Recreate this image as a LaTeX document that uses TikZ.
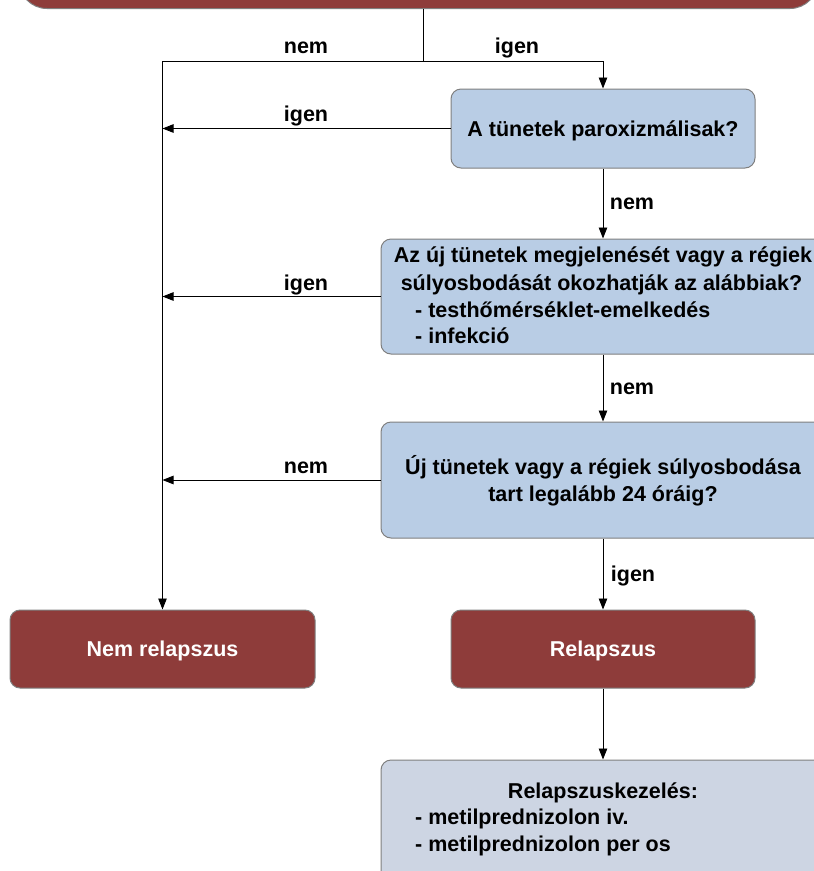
\documentclass[tikz,border=0pt]{standalone}
\usepackage{fontspec}
\setmainfont{Liberation Sans}
\usetikzlibrary{arrows.meta}
\definecolor{boxred}{HTML}{8E3C3A}
\definecolor{boxblue}{HTML}{B9CDE5}
\definecolor{boxgrey}{HTML}{CDD5E3}
\definecolor{edgegrey}{HTML}{7F7F7F}

\begin{document}
\begin{tikzpicture}[x=1pt,y=-1pt,
  every node/.style={font=\fontsize{21.5}{27}\selectfont\bfseries},
  box/.style={draw=edgegrey, line width=1pt, rounded corners=10pt, inner sep=0pt},
  redbox/.style={box, fill=boxred, text=white},
  bluebox/.style={box, fill=boxblue},
  greybox/.style={box, fill=boxgrey},
  conn/.style={line width=0.9pt, draw=black},
  arr/.style={conn, -{Triangle[length=11pt,width=8.5pt]}},
  lbl/.style={inner sep=0pt, anchor=base},
  ltext/.style={inner sep=0pt, anchor=base west}]

\useasboundingbox (0,0) rectangle (814,871);
\clip (0,0) rectangle (814,871);

% boxes
\node[redbox, rounded corners=28pt, minimum width=799pt, minimum height=80pt] (start) at (418.5,-31.5) {};
\node[bluebox, minimum width=304pt, minimum height=79pt] (q1) at (603,128.5) {};
\node[lbl] (q1t) at (603,136) {A tünetek paroxizmálisak?};

\node[bluebox, minimum width=444pt, minimum height=115pt] (q2) at (603,296.5) {};
\node[lbl] (q2a) at (603,262) {Az új tünetek megjelenését vagy a régiek};
\node[lbl] (q2b) at (601.5,290) {súlyosbodását okozhatják az alábbiak?};
\node[ltext] (q2c) at (415,317) {- testhőmérséklet-emelkedés};
\node[ltext] (q2d) at (415,343) {- infekció};

\node[bluebox, minimum width=444pt, minimum height=116pt] (q3) at (603,480) {};
\node[lbl] (q3a) at (603,474) {Új tünetek vagy a régiek súlyosbodása};
\node[lbl] (q3b) at (603,501) {tart legalább 24 óráig?};

\node[redbox, minimum width=305pt, minimum height=78pt] (norel) at (162.5,649) {};
\node[lbl, text=white] (norelt) at (162.5,656.5) {Nem relapszus};

\node[redbox, minimum width=304pt, minimum height=78pt] (rel) at (603,649) {};
\node[lbl, text=white] (relt) at (603,656.5) {Relapszus};

\node[greybox, minimum width=444pt, minimum height=130pt] (treat) at (603,825) {};
\node[lbl] (treata) at (603,798) {Relapszuskezelés:};
\node[ltext] (treatb) at (415,824) {- metilprednizolon iv.};
\node[ltext] (treatc) at (415,851) {- metilprednizolon per os};

% junction points of the connectors
\coordinate (split) at (423,61);
\coordinate (trunk) at (162.5,61);

% connectors
\draw[conn] (start.south -| split) -- (split);
\draw[conn] (split) -- (trunk);
\draw[arr] (trunk) -- (norel.north);
\draw[arr] (split) -| (q1.north);
\draw[arr] (q1.west) -- (q1.west -| trunk);
\draw[arr] (q2.west) -- (q2.west -| trunk);
\draw[arr] (q3.west) -- (q3.west -| trunk);
\draw[arr] (q1.south) -- (q2.north);
\draw[arr] (q2.south) -- (q3.north);
\draw[arr] (q3.south) -- (rel.north);
\draw[arr] (rel.south) -- (treat.north);

% connector labels
\node[lbl] (l1) at (306,53) {nem};
\node[lbl] (l2) at (517,53) {igen};
\node[lbl] (l3) at (306,121) {igen};
\node[lbl] (l4) at (632,209) {nem};
\node[lbl] (l5) at (306,290) {igen};
\node[lbl] (l6) at (632,394) {nem};
\node[lbl] (l7) at (306,473) {nem};
\node[lbl] (l8) at (633,581) {igen};
\end{tikzpicture}
\end{document}
